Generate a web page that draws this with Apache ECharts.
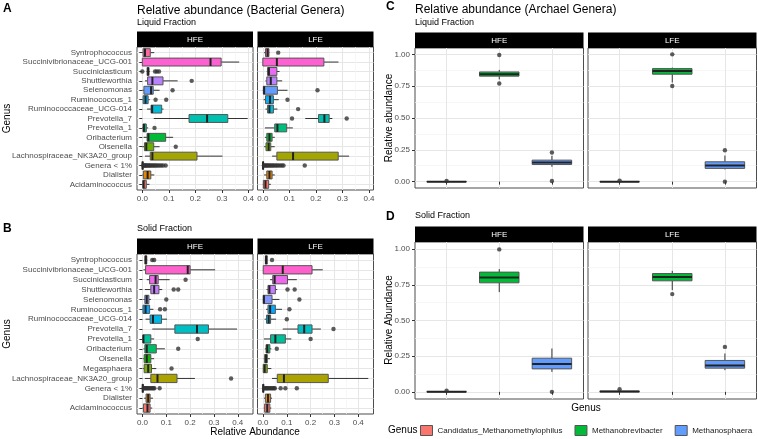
<!DOCTYPE html>
<html>
<head>
<meta charset="utf-8">
<script src="https://cdn.jsdelivr.net/npm/echarts@6/dist/echarts.min.js"></script>
<style>
html,body{margin:0;padding:0;background:#fff}
#chart{width:758px;height:439px}
</style>
</head>
<body>
<div id="chart"></div>
<script>
// genera, bottom to top (same order ggplot uses on a discrete y axis)
var liquidGenera = ['Acidaminococcus','Dialister','Genera < 1%','Lachnospiraceae_NK3A20_group','Olsenella','Oribacterium','Prevotella_1','Prevotella_7','Ruminococcaceae_UCG-014','Ruminococcus_1','Selenomonas','Shuttleworthia','Succiniclasticum','Succinivibrionaceae_UCG-001','Syntrophococcus'];
var solidGenera = ['Acidaminococcus','Dialister','Genera < 1%','Lachnospiraceae_NK3A20_group','Megasphaera','Olsenella','Oribacterium','Prevotella_1','Prevotella_7','Ruminococcaceae_UCG-014','Ruminococcus_1','Selenomonas','Shuttleworthia','Succiniclasticum','Succinivibrionaceae_UCG-001','Syntrophococcus'];
var archaeaGenera = ['Candidatus_Methanomethylophilus','Methanobrevibacter','Methanosphaera'];

var liquidColors = ['#F8766D','#E58700','#C99800','#A3A500','#6BB100','#00BA38','#00BF7D','#00C0AF','#00BCD8','#00B0F6','#619CFF','#B983FF','#E76BF3','#FD61D1','#FF67A4'];
var solidColors = ['#F8766D','#E68613','#CD9600','#ABA300','#7CAE00','#0CB702','#00BE67','#00C19A','#00BFC4','#00B8E7','#00A9FF','#8494FF','#C77CFF','#ED68ED','#FF61CC','#FF68A1'];
var archaeaColors = ['#F8766D','#00BA38','#619CFF'];

// [lower whisker, Q1, median, Q3, upper whisker] per genus
var liquidHFE = [[0,0.002,0.005,0.015,0.027],[0,0.004,0.02,0.032,0.045],[0,0,0.001,0.003,0.006],[0.01,0.03,0.038,0.206,0.302],[0,0.008,0.015,0.043,0.065],[0.005,0.018,0.023,0.088,0.116],[0,0.003,0.006,0.015,0.022],[0.043,0.176,0.244,0.322,0.397],[0.018,0.033,0.037,0.073,0.08],[0,0.003,0.012,0.022,0.028],[0,0.006,0.033,0.041,0.065],[0.01,0.02,0.038,0.078,0.133],[0.016,0.018,0.022,0.025,0.028],[0,0,0.257,0.297,0.365],[0,0.003,0.01,0.03,0.045]];
var liquidLFE = [[0,0.002,0.01,0.022,0.03],[0.005,0.015,0.025,0.035,0.045],[0,0,0.001,0.003,0.006],[0.035,0.053,0.114,0.284,0.325],[0.005,0.012,0.022,0.03,0.045],[0.008,0.015,0.025,0.035,0.045],[0.008,0.045,0.055,0.09,0.113],[0.16,0.21,0.232,0.25,0.262],[0.01,0.018,0.025,0.04,0.055],[0.003,0.01,0.027,0.04,0.06],[0,0.002,0.005,0.055,0.093],[0.01,0.015,0.03,0.053,0.073],[0.015,0.018,0.023,0.053,0.063],[0,0,0.053,0.23,0.285],[0.005,0.01,0.018,0.023,0.025]];
var solidHFE = [[0,0.004,0.021,0.032,0.041],[0.007,0.015,0.024,0.032,0.044],[0,0,0.001,0.003,0.006],[0.01,0.035,0.063,0.145,0.22],[0.003,0.007,0.024,0.038,0.058],[0.003,0.007,0.018,0.035,0.049],[0.004,0.01,0.018,0.058,0.094],[0,0.002,0.004,0.035,0.049],[0.041,0.136,0.229,0.277,0.397],[0.013,0.032,0.044,0.08,0.103],[0,0.002,0.013,0.03,0.046],[0.004,0.01,0.018,0.027,0.035],[0.01,0.035,0.049,0.069,0.083],[0.018,0.03,0.055,0.066,0.114],[0.004,0.013,0.19,0.2,0.305],[0.008,0.01,0.014,0.018,0.02]];
var solidLFE = [[0.003,0.007,0.018,0.029,0.035],[0.004,0.01,0.021,0.032,0.038],[0,0,0.001,0.003,0.006],[0.038,0.06,0.088,0.274,0.442],[0,0.001,0.007,0.018,0.035],[0.003,0.007,0.013,0.018,0.029],[0.008,0.013,0.018,0.029,0.035],[0.004,0.032,0.052,0.094,0.119],[0.083,0.147,0.173,0.206,0.243],[0.007,0.015,0.024,0.032,0.055],[0.013,0.021,0.03,0.052,0.08],[0,0.001,0.004,0.038,0.069],[0.015,0.021,0.027,0.052,0.06],[0.03,0.041,0.049,0.103,0.142],[0,0.001,0.083,0.206,0.251],[0.008,0.01,0.013,0.018,0.02]];

// outliers: [genus, value]
var liquidHFEOut = [['Succiniclasticum',0],['Succiniclasticum',0.048],['Succiniclasticum',0.055],['Succiniclasticum',0.063],['Shuttleworthia',0.186],['Selenomonas',0.114],['Ruminococcus_1',0.05],['Ruminococcus_1',0.09],['Prevotella_1',0.046],['Olsenella',0.126],
  ['Genera < 1%',0.004],['Genera < 1%',0.007],['Genera < 1%',0.01],['Genera < 1%',0.013],['Genera < 1%',0.016],['Genera < 1%',0.02],['Genera < 1%',0.024],['Genera < 1%',0.028],['Genera < 1%',0.032],['Genera < 1%',0.037],['Genera < 1%',0.042],['Genera < 1%',0.047],['Genera < 1%',0.052],['Genera < 1%',0.058],['Genera < 1%',0.064],['Genera < 1%',0.071],['Genera < 1%',0.078],['Genera < 1%',0.088]];
var liquidLFEOut = [['Syntrophococcus',0.058],['Selenomonas',0.206],['Ruminococcus_1',0.093],['Ruminococcaceae_UCG-014',0.133],['Prevotella_7',0.11],['Prevotella_7',0.316],
  ['Genera < 1%',0.004],['Genera < 1%',0.008],['Genera < 1%',0.012],['Genera < 1%',0.016],['Genera < 1%',0.02],['Genera < 1%',0.025],['Genera < 1%',0.03],['Genera < 1%',0.035],['Genera < 1%',0.04],['Genera < 1%',0.046],['Genera < 1%',0.052],['Genera < 1%',0.058],['Genera < 1%',0.065],['Genera < 1%',0.072],['Genera < 1%',0.078],['Genera < 1%',0.158]];
var solidHFEOut = [['Syntrophococcus',0.041],['Syntrophococcus',0.049],['Succiniclasticum',0.181],['Shuttleworthia',0.131],['Shuttleworthia',0.15],['Selenomonas',0.1],['Ruminococcus_1',0.074],['Ruminococcus_1',0.094],['Prevotella_1',0.232],['Oribacterium',0.15],['Megasphaera',0.122],['Lachnospiraceae_NK3A20_group',0.372],
  ['Genera < 1%',0.005],['Genera < 1%',0.009],['Genera < 1%',0.013],['Genera < 1%',0.017],['Genera < 1%',0.021],['Genera < 1%',0.026],['Genera < 1%',0.031],['Genera < 1%',0.036],['Genera < 1%',0.041],['Genera < 1%',0.046],['Genera < 1%',0.05],['Genera < 1%',0.072]];
var solidLFEOut = [['Syntrophococcus',0.038],['Shuttleworthia',0.103],['Shuttleworthia',0.133],['Selenomonas',0.153],['Ruminococcus_1',0.111],['Ruminococcaceae_UCG-014',0.1],['Prevotella_7',0.296],['Prevotella_1',0.2],['Oribacterium',0.058],
  ['Genera < 1%',0.005],['Genera < 1%',0.009],['Genera < 1%',0.013],['Genera < 1%',0.017],['Genera < 1%',0.021],['Genera < 1%',0.026],['Genera < 1%',0.031],['Genera < 1%',0.036],['Genera < 1%',0.041],['Genera < 1%',0.046],['Genera < 1%',0.05],['Genera < 1%',0.074],['Genera < 1%',0.094],['Genera < 1%',0.142]];

var archLiquidHFE = [[0,0,0,0.001,0.002],[0.803,0.829,0.844,0.862,0.878],[0.117,0.135,0.151,0.169,0.203]];
var archLiquidLFE = [[0,0,0,0.001,0.003],[0.779,0.844,0.87,0.888,0.896],[0.096,0.104,0.127,0.156,0.205]];
var archSolidHFE = [[0,0,0,0.002,0.004],[0.699,0.764,0.801,0.839,0.86],[0.14,0.161,0.196,0.236,0.304]];
var archSolidLFE = [[0,0,0.002,0.005,0.008],[0.713,0.778,0.804,0.829,0.848],[0.152,0.166,0.185,0.22,0.269]];
var archLiquidHFEOut = [['Candidatus_Methanomethylophilus',0.005],['Methanobrevibacter',0.995],['Methanobrevibacter',0.771],['Methanosphaera',0.229],['Methanosphaera',0.005]];
var archLiquidLFEOut = [['Candidatus_Methanomethylophilus',0.008],['Methanobrevibacter',1.0],['Methanobrevibacter',0.751],['Methanosphaera',0.247],['Methanosphaera',0]];
var archSolidHFEOut = [['Candidatus_Methanomethylophilus',0.008],['Methanobrevibacter',0.998],['Methanosphaera',0]];
var archSolidLFEOut = [['Candidatus_Methanomethylophilus',0.019],['Methanobrevibacter',0.685],['Methanosphaera',0.315]];

var bacTicks = [0, 0.1, 0.2, 0.3, 0.4];
var bacMinor = [0.05, 0.15, 0.25, 0.35];
var archTicks = [0, 0.25, 0.5, 0.75, 1];
var archMinor = [0.125, 0.375, 0.625, 0.875];

var FONT = 'Liberation Sans, Arial, Helvetica, sans-serif';
var BORDER = '#4d4d4d', MAJOR = '#e6e6e6', MINOR = '#f3f3f3', AXTXT = '#4d4d4d';

var grids = [], xAxes = [], yAxes = [], series = [], graphics = [];

function txt(x, y, s, size, opt) {
  opt = opt || {};
  graphics.push({
    type: 'text', x: x, y: y, rotation: opt.rot || 0,
    style: {
      text: s, fill: opt.color || '#000', fontSize: size, fontFamily: FONT,
      fontWeight: opt.bold ? 'bold' : 'normal',
      align: opt.align || 'left', verticalAlign: 'middle',
      textAlign: opt.align || 'left', textVerticalAlign: 'middle'
    }
  });
}

function strip(box, label) {
  graphics.push({type: 'rect', shape: {x: box[0], y: box[1] - 15.5, width: box[2], height: 15.5}, style: {fill: '#000'}});
  txt(box[0] + box[2] / 2, box[1] - 7.5, label, 8, {color: '#fff', align: 'center'});
}

function addGrid(box) {
  grids.push({left: box[0], top: box[1], width: box[2], height: box[3], show: true,
    borderColor: BORDER, borderWidth: 1, backgroundColor: '#fff', containLabel: false});
  return grids.length - 1;
}

function valueAxis(g, min, max, ticks, showTicks, labels, fmt) {
  return {
    gridIndex: g, type: 'value', min: min, max: max, scale: false,
    axisLine: {show: false},
    axisTick: {show: showTicks, length: 3, customValues: ticks, lineStyle: {color: '#333', width: 1}},
    axisLabel: {show: !!labels, customValues: ticks, formatter: fmt, fontSize: 8, color: AXTXT, fontFamily: FONT, margin: 5},
    splitLine: {show: true, lineStyle: {color: MAJOR, width: 1}}
  };
}

function minorAxis(g, min, max, ticks) {
  return {
    gridIndex: g, type: 'value', min: min, max: max,
    axisLine: {show: false}, axisLabel: {show: false},
    axisTick: {show: false, customValues: ticks},
    splitLine: {show: true, lineStyle: {color: MINOR, width: 0.7}}
  };
}

function positions(list) {
  return list.map(function (g, i) { return i + 1; });
}

// horizontal box: api values [pos, lo, q1, med, q3, hi]
function hBox(colors) {
  return function (params, api) {
    var pos = api.value(0);
    var lo = api.coord([api.value(1), pos]), q1 = api.coord([api.value(2), pos]);
    var md = api.coord([api.value(3), pos]), q3 = api.coord([api.value(4), pos]);
    var hi = api.coord([api.value(5), pos]);
    var h = api.size([0, 1])[1] * 0.42, y = q1[1];
    return {type: 'group', children: [
      {type: 'line', shape: {x1: lo[0], y1: y, x2: q1[0], y2: y}, style: {stroke: '#333', lineWidth: 1}},
      {type: 'line', shape: {x1: q3[0], y1: y, x2: hi[0], y2: y}, style: {stroke: '#333', lineWidth: 1}},
      {type: 'rect', shape: {x: q1[0], y: y - h, width: q3[0] - q1[0], height: 2 * h}, style: {fill: colors[pos - 1], stroke: '#555', lineWidth: 1}},
      {type: 'line', shape: {x1: md[0], y1: y - h, x2: md[0], y2: y + h}, style: {stroke: '#222', lineWidth: 2}}
    ]};
  };
}

function vBox(params, api) {
  var pos = api.value(0);
  var lo = api.coord([pos, api.value(1)]), q1 = api.coord([pos, api.value(2)]);
  var md = api.coord([pos, api.value(3)]), q3 = api.coord([pos, api.value(4)]);
  var hi = api.coord([pos, api.value(5)]);
  var w = api.size([1, 0])[0] * 0.375, x = q1[0];
  return {type: 'group', children: [
    {type: 'line', shape: {x1: x, y1: lo[1], x2: x, y2: q1[1]}, style: {stroke: '#333', lineWidth: 1}},
    {type: 'line', shape: {x1: x, y1: q3[1], x2: x, y2: hi[1]}, style: {stroke: '#333', lineWidth: 1}},
    {type: 'rect', shape: {x: x - w, y: q3[1], width: 2 * w, height: q1[1] - q3[1]}, style: {fill: api.visual('color'), stroke: '#555', lineWidth: 1}},
    {type: 'line', shape: {x1: x - w, y1: md[1], x2: x + w, y2: md[1]}, style: {stroke: '#222', lineWidth: 2}}
  ]};
}

function bacPanel(box, label, genera, colors, stats, outs, xMin, xMax, first) {
  strip(box, label);
  var g = addGrid(box);
  var xi = xAxes.length;
  xAxes.push(valueAxis(g, xMin, xMax, bacTicks, true, true, function (v) { return v.toFixed(1); }));
  xAxes.push(minorAxis(g, xMin, xMax, bacMinor));
  var yi = yAxes.length;
  var pos = positions(genera);
  var ya = valueAxis(g, 0.4, genera.length + 0.6, pos, first, first, function (v) { return genera[Math.round(v) - 1]; });
  ya.axisLabel.margin = 5;
  yAxes.push(ya);
  series.push({
    type: 'custom', xAxisIndex: xi, yAxisIndex: yi, silent: true,
    renderItem: hBox(colors), encode: {x: [1, 2, 3, 4, 5], y: 0},
    data: stats.map(function (s, i) { return [i + 1].concat(s); })
  });
  series.push({
    type: 'scatter', xAxisIndex: xi, yAxisIndex: yi, silent: true, symbolSize: 4.4,
    itemStyle: {color: '#333'},
    data: outs.map(function (o) { return [o[1], genera.indexOf(o[0]) + 1]; })
  });
}

function archPanel(box, label, stats, outs, first) {
  strip(box, label);
  var g = addGrid(box);
  var xi = xAxes.length;
  xAxes.push(valueAxis(g, 0.4, 3.6, positions(archaeaGenera), true, false, null));
  var yi = yAxes.length;
  yAxes.push(valueAxis(g, -0.05, 1.05, archTicks, first, first, function (v) { return v.toFixed(2); }));
  yAxes.push(minorAxis(g, -0.05, 1.05, archMinor));
  archaeaGenera.forEach(function (name, i) {
    series.push({
      type: 'custom', name: name, xAxisIndex: xi, yAxisIndex: yi, silent: true,
      itemStyle: {color: archaeaColors[i]}, renderItem: vBox, encode: {x: 0, y: [1, 2, 3, 4, 5]},
      data: [[i + 1].concat(stats[i])]
    });
  });
  series.push({
    type: 'scatter', xAxisIndex: xi, yAxisIndex: yi, silent: true, symbolSize: 4.4,
    itemStyle: {color: '#333'},
    data: outs.map(function (o) { return [archaeaGenera.indexOf(o[0]) + 1, o[1]]; })
  });
}

// A
txt(3, 9, 'A', 12, {bold: true});
txt(137, 11, 'Relative abundance (Bacterial Genera)', 12);
txt(137, 22.5, 'Liquid Fraction', 9);
bacPanel([137, 47, 116, 143], 'HFE', liquidGenera, liquidColors, liquidHFE, liquidHFEOut, -0.02, 0.417, true);
bacPanel([257.5, 47, 116, 143], 'LFE', liquidGenera, liquidColors, liquidLFE, liquidLFEOut, -0.02, 0.417, false);
txt(7, 118.5, 'Genus', 10, {rot: Math.PI / 2, align: 'center'});

// B
txt(3, 229, 'B', 12, {bold: true});
txt(137, 229, 'Solid Fraction', 9);
bacPanel([137, 254, 116, 160], 'HFE', solidGenera, solidColors, solidHFE, solidHFEOut, -0.023, 0.464, true);
bacPanel([257.5, 254, 116, 160], 'LFE', solidGenera, solidColors, solidLFE, solidLFEOut, -0.023, 0.464, false);
txt(7, 334, 'Genus', 10, {rot: Math.PI / 2, align: 'center'});
txt(255, 432, 'Relative Abundance', 10, {align: 'center'});

// C
txt(386, 7, 'C', 12, {bold: true});
txt(415, 10, 'Relative abundance (Archael Genera)', 12);
txt(415, 22.5, 'Liquid Fraction', 9);
archPanel([415, 48, 168.5, 140], 'HFE', archLiquidHFE, archLiquidHFEOut, true);
archPanel([588, 48, 168.5, 140], 'LFE', archLiquidLFE, archLiquidLFEOut, false);
txt(389, 118, 'Relative abundance', 10, {rot: Math.PI / 2, align: 'center'});

// D
txt(386, 217, 'D', 12, {bold: true});
txt(415, 216, 'Solid Fraction', 9);
archPanel([415, 242, 168.5, 157], 'HFE', archSolidHFE, archSolidHFEOut, true);
archPanel([588, 242, 168.5, 157], 'LFE', archSolidLFE, archSolidLFEOut, false);
txt(389, 320, 'Relative Abundance', 10, {rot: Math.PI / 2, align: 'center'});
txt(586, 408, 'Genus', 10, {align: 'center'});
txt(388, 430, 'Genus', 10);

var chart = echarts.init(document.getElementById('chart'), null, {renderer: 'canvas'});
chart.setOption({
  animation: false,
  backgroundColor: '#fff',
  textStyle: {fontFamily: FONT},
  grid: grids,
  xAxis: xAxes,
  yAxis: yAxes,
  legend: {
    data: archaeaGenera, left: 420, top: 425, width: 400, padding: 0,
    orient: 'horizontal', icon: 'rect', itemWidth: 12, itemHeight: 10, itemGap: 12,
    selectedMode: false, itemStyle: {borderColor: '#555', borderWidth: 1},
    textStyle: {fontSize: 8, color: '#1a1a1a', fontFamily: FONT}
  },
  series: series,
  graphic: graphics
});
</script>
</body>
</html>
